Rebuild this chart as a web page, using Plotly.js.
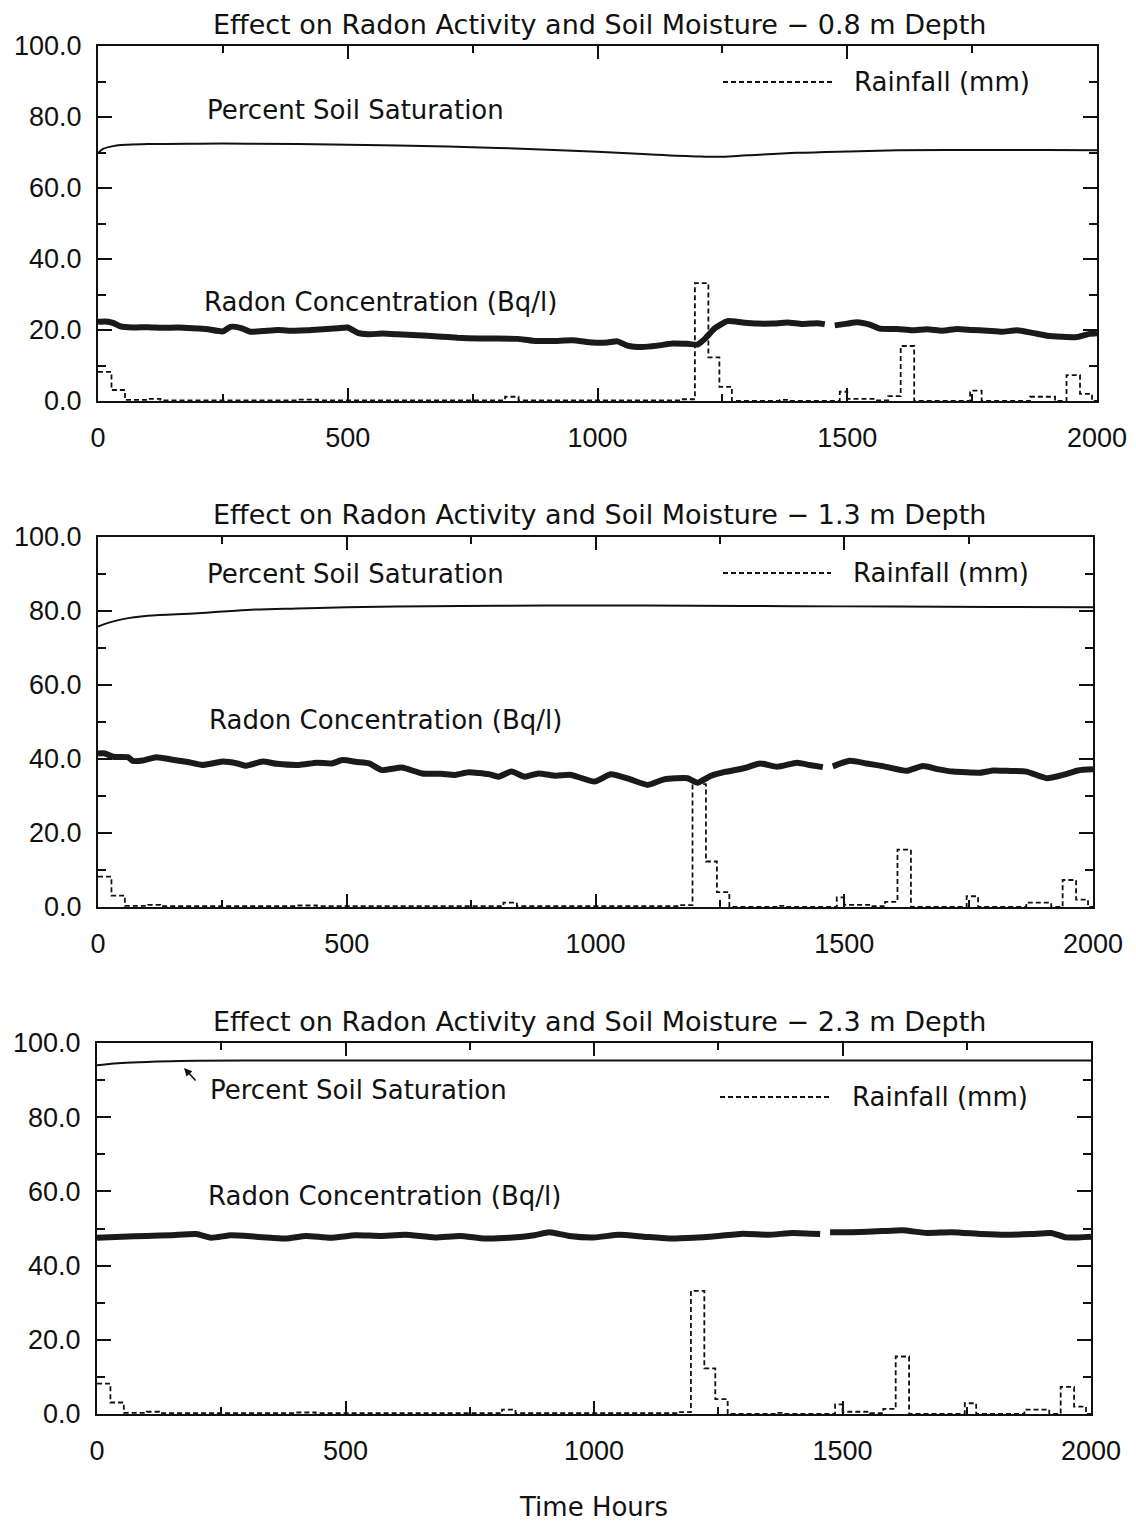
<!DOCTYPE html>
<html>
<head>
<meta charset="utf-8">
<script src="https://cdn.plot.ly/plotly-3.0.1.min.js"></script>
<style>html,body{margin:0;padding:0;background:#fff;}#chart{width:1136px;height:1522px;}</style>
</head>
<body>
<div id="chart"></div>
<script>
// ---------- DATA ----------
const panelTitles = [
  "Effect on Radon Activity and Soil Moisture − 0.8 m Depth",
  "Effect on Radon Activity and Soil Moisture − 1.3 m Depth",
  "Effect on Radon Activity and Soil Moisture − 2.3 m Depth"
];
const xTickVals = [0, 500, 1000, 1500, 2000];
const xTickText = ["0", "500", "1000", "1500", "2000"];
const yTickVals = [0, 20, 40, 60, 80, 100];
const yTickText = ["0.0", "20.0", "40.0", "60.0", "80.0", "100.0"];

// Rainfall (mm), step function, same for all depths
const rainHours = [0, 27, 54, 100, 125, 400, 440, 815, 842, 1168, 1195, 1222, 1244, 1269, 1365, 1385, 1485, 1500, 1555, 1582, 1607, 1634, 1746, 1769, 1866, 1916, 1939, 1966, 1990, 2000];
const rainMm    = [8.2, 3.1, 0.3, 0.6, 0.2, 0.4, 0.2, 1.2, 0.2, 0.5, 33.2, 12.3, 4.0, 0, 0.3, 0, 2.6, 0.6, 0.2, 1.4, 15.5, 0, 2.9, 0, 1.2, 0, 7.3, 2.0, 0, 0];

// Percent soil saturation
const satHours08 = [0, 10, 30, 60, 100, 200, 300, 400, 500, 600, 700, 800, 900, 1000, 1100, 1200, 1250, 1300, 1400, 1500, 1600, 1700, 1800, 1900, 2000];
const sat08      = [69.8, 71.0, 71.8, 72.2, 72.4, 72.5, 72.5, 72.4, 72.2, 72.0, 71.7, 71.3, 70.8, 70.2, 69.5, 68.9, 68.8, 69.2, 69.9, 70.3, 70.6, 70.7, 70.7, 70.7, 70.6];
const satHours13 = [0, 20, 50, 100, 200, 300, 400, 500, 600, 800, 1000, 1200, 1400, 1600, 1800, 2000];
const sat13      = [75.8, 76.8, 77.8, 78.7, 79.4, 80.3, 80.7, 81.0, 81.2, 81.4, 81.5, 81.4, 81.3, 81.2, 81.1, 81.0];
const satHours23 = [0, 20, 50, 100, 150, 200, 300, 500, 1000, 1500, 2000];
const sat23      = [94.0, 94.3, 94.6, 94.9, 95.1, 95.2, 95.3, 95.3, 95.3, 95.3, 95.3];

// Radon concentration (Bq/l); null = data gap
const radonHours08 = [0, 15, 30, 45, 70, 100, 130, 160, 190, 220, 250, 265, 285, 305, 330, 360, 390, 420, 450, 480, 500, 520, 540, 570, 600, 640, 680, 720, 760, 800, 840, 870, 910, 950, 990, 1020, 1040, 1060, 1090, 1120, 1150, 1180, 1200, 1215, 1235, 1260, 1290, 1320, 1350, 1380, 1410, 1440, 1455, 1465, 1475, 1500, 1520, 1545, 1565, 1600, 1630, 1660, 1690, 1720, 1750, 1780, 1810, 1840, 1870, 1900, 1930, 1960, 1985, 2000];
const radon08      = [22.3, 22.4, 22.0, 21.0, 20.7, 20.8, 20.6, 20.7, 20.5, 20.2, 19.6, 20.9, 20.6, 19.5, 19.7, 20.0, 19.8, 19.9, 20.2, 20.5, 20.7, 19.2, 18.8, 19.0, 18.8, 18.5, 18.2, 17.8, 17.6, 17.6, 17.5, 17.0, 16.9, 17.1, 16.5, 16.5, 16.8, 15.6, 15.2, 15.6, 16.2, 16.1, 15.9, 17.5, 20.5, 22.5, 22.1, 21.8, 21.8, 22.1, 21.7, 21.9, 21.6, null, 21.3, 21.8, 22.2, 21.5, 20.4, 20.3, 19.9, 20.2, 19.8, 20.3, 20.0, 19.8, 19.5, 19.9, 19.2, 18.4, 18.1, 18.0, 18.9, 19.1];
const radonHours13 = [0, 14, 30, 60, 70, 90, 117, 150, 180, 210, 251, 280, 298, 331, 360, 404, 440, 470, 491, 520, 545, 571, 611, 651, 690, 718, 745, 785, 805, 831, 858, 885, 920, 951, 998, 1031, 1070, 1105, 1138, 1185, 1205, 1231, 1260, 1298, 1331, 1365, 1405, 1430, 1457, 1467, 1477, 1511, 1545, 1580, 1625, 1658, 1690, 1719, 1773, 1800, 1826, 1866, 1907, 1940, 1970, 2000];
const radon13      = [41.5, 41.5, 40.6, 40.5, 39.5, 39.6, 40.5, 39.8, 39.2, 38.4, 39.3, 38.8, 38.2, 39.3, 38.7, 38.4, 39.0, 38.8, 39.7, 39.2, 38.8, 37.0, 37.7, 36.1, 36.0, 35.7, 36.4, 35.9, 35.2, 36.6, 35.2, 36.1, 35.5, 35.7, 33.9, 35.9, 34.5, 33.0, 34.5, 34.8, 33.6, 35.4, 36.5, 37.5, 38.8, 37.9, 39.0, 38.4, 37.8, null, 38.0, 39.5, 38.8, 38.0, 36.8, 38.1, 37.2, 36.6, 36.3, 36.9, 36.8, 36.6, 34.8, 35.7, 36.9, 37.2];
const radonHours23 = [0, 50, 100, 150, 200, 230, 270, 320, 380, 420, 470, 520, 570, 620, 680, 730, 780, 830, 880, 910, 950, 1000, 1050, 1100, 1150, 1200, 1250, 1300, 1350, 1400, 1455, 1465, 1475, 1520, 1580, 1620, 1670, 1720, 1780, 1830, 1880, 1920, 1950, 2000];
const radon23      = [47.5, 47.8, 48.0, 48.2, 48.5, 47.5, 48.2, 47.8, 47.3, 48.0, 47.5, 48.2, 48.0, 48.3, 47.6, 48.0, 47.3, 47.5, 48.2, 49.0, 48.0, 47.6, 48.3, 47.8, 47.3, 47.5, 48.0, 48.6, 48.3, 48.8, 48.5, null, 49.0, 49.0, 49.3, 49.5, 48.8, 49.0, 48.5, 48.3, 48.5, 48.8, 47.6, 47.8];

// ---------- LAYOUT HELPERS ----------
const W = 1136, H = 1522;
const px = v => v / W;
const py = v => 1 - v / H;

// plot frames in pixels: [left, right, top, bottom]
const frames = [
  [98, 1097, 46, 401],
  [98, 1093, 537, 907],
  [97, 1091, 1043, 1414]
];

const tickFont = {family: "Liberation Sans, Arial, sans-serif", size: 27, color: "#111"};
const textFont = {family: "DejaVu Sans, sans-serif", size: 26, color: "#111"};
const titleFont = {family: "DejaVu Sans, sans-serif", size: 27, color: "#111"};

const satX = [satHours08, satHours13, satHours23];
const satY = [sat08, sat13, sat23];
const radX = [radonHours08, radonHours13, radonHours23];
const radY = [radon08, radon13, radon23];

const traces = [];
const layout = {
  width: W, height: H, autosize: false,
  margin: {l: 0, r: 0, t: 0, b: 0},
  paper_bgcolor: "#fff", plot_bgcolor: "#fff",
  showlegend: false,
  annotations: [], shapes: []
};

frames.forEach((f, i) => {
  const s = i === 0 ? "" : String(i + 1);
  const xa = "x" + s, ya = "y" + s;
  traces.push({x: rainHours, y: rainMm, xaxis: xa, yaxis: ya, mode: "lines",
    line: {shape: "hv", color: "#111", width: 1.8, dash: "5px,3px"}, hoverinfo: "skip"});
  traces.push({x: satX[i], y: satY[i], xaxis: xa, yaxis: ya, mode: "lines",
    line: {shape: "spline", color: "#111", width: 2}, hoverinfo: "skip"});
  traces.push({x: radX[i], y: radY[i], xaxis: xa, yaxis: ya, mode: "lines", connectgaps: false,
    line: {shape: "spline", smoothing: 0.5, color: "#1a1a1a", width: 6}, hoverinfo: "skip"});

  layout["xaxis" + s] = {
    domain: [px(f[0]), px(f[1])], anchor: ya, range: [0, 2000],
    tickmode: "array", tickvals: xTickVals, ticktext: xTickText,
    ticks: "inside", ticklen: 13, tickwidth: 2, tickcolor: "#111",
    minor: {ticks: "inside", tickmode: "linear", tick0: 0, dtick: 250, ticklen: 7, tickwidth: 2, tickcolor: "#111", showgrid: false},
    showline: true, linewidth: 2, linecolor: "#111", mirror: "ticks",
    showgrid: false, zeroline: false, tickfont: tickFont, ticklabelstandoff: 12,
    fixedrange: true
  };
  layout["yaxis" + s] = {
    domain: [py(f[3]), py(f[2])], anchor: xa, range: [0, 100],
    tickmode: "array", tickvals: yTickVals, ticktext: yTickText,
    ticks: "inside", ticklen: 14, tickwidth: 2, tickcolor: "#111",
    minor: {ticks: "inside", tickmode: "linear", tick0: 0, dtick: 10, ticklen: 8, tickwidth: 2, tickcolor: "#111", showgrid: false},
    showline: true, linewidth: 2, linecolor: "#111", mirror: "ticks",
    showgrid: false, zeroline: false, tickfont: tickFont, ticklabelstandoff: 9,
    fixedrange: true
  };
});

// titles
const titleY = [25, 515, 1021];
titleY.forEach((y, i) => {
  layout.annotations.push({text: panelTitles[i], xref: "paper", yref: "paper",
    x: px(599), y: py(y), xanchor: "center", yanchor: "middle", showarrow: false, font: titleFont});
});
layout.annotations.push({text: "Time Hours", xref: "paper", yref: "paper",
  x: px(593), y: py(1507), xanchor: "center", yanchor: "middle", showarrow: false, font: textFont});

// in-plot labels: [text, left x, center y]
const labels = [
  ["Percent Soil Saturation", 205, 110],
  ["Radon Concentration (Bq/l)", 202, 302],
  ["Rainfall (mm)", 852, 82],
  ["Percent Soil Saturation", 205, 574],
  ["Radon Concentration (Bq/l)", 207, 720],
  ["Rainfall (mm)", 851, 573],
  ["Percent Soil Saturation", 208, 1090],
  ["Radon Concentration (Bq/l)", 206, 1196],
  ["Rainfall (mm)", 850, 1097]
];
labels.forEach(l => {
  layout.annotations.push({text: l[0], xref: "paper", yref: "paper",
    x: px(l[1]), y: py(l[2]), xanchor: "left", yanchor: "middle", showarrow: false, font: textFont});
});

// legend dash samples
[[723, 833, 82], [723, 831, 573], [720, 830, 1097]].forEach(d => {
  layout.shapes.push({type: "line", xref: "paper", yref: "paper",
    x0: px(d[0]), x1: px(d[1]), y0: py(d[2]), y1: py(d[2]),
    line: {color: "#111", width: 1.8, dash: "5px,3px"}});
});

// arrow to saturation curve (2.3 m panel)
layout.annotations.push({text: "", xref: "paper", yref: "paper", x: px(184), y: py(1068),
  showarrow: true, ax: 13, ay: 14, arrowhead: 2, arrowsize: 1, arrowwidth: 1.6, arrowcolor: "#111"});

Plotly.newPlot("chart", traces, layout, {staticPlot: true, displayModeBar: false});
</script>
</body>
</html>
